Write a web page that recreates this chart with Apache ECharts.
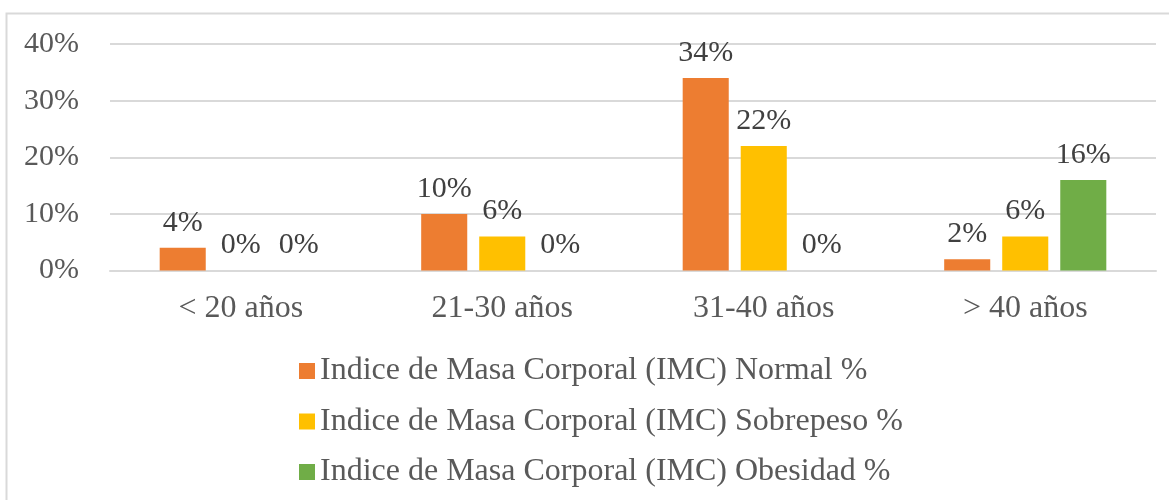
<!DOCTYPE html>
<html>
<head>
<meta charset="utf-8">
<script src="https://cdn.jsdelivr.net/npm/echarts@6/dist/echarts.min.js"></script>
<style>
  html, body { margin: 0; padding: 0; background: #fff; }
  #chart { width: 1169px; height: 500px; }
</style>
</head>
<body>
<div id="chart"></div>
<script>
// datos
const categorias = ['< 20 años', '21-30 años', '31-40 años', '> 40 años'];
const normal = [4, 10, 34, 2];
const sobrepeso = [0, 6, 22, 6];
const obesidad = [0, 0, 0, 16];
const yTicks = [0, 10, 20, 30, 40];

const fuente = 'Liberation Serif, Times New Roman, serif';

const myChart = echarts.init(document.getElementById('chart'));

function serie(nombre, datos, color) {
  return {
    name: nombre,
    type: 'bar',
    data: datos,
    barGap: '26%',
    barCategoryGap: '38%',
    itemStyle: { color: color },
    label: {
      show: true,
      position: 'top',
      distance: 10,
      formatter: '{c}%',
      color: '#404040',
      fontFamily: fuente,
      fontSize: 30
    }
  };
}

myChart.setOption({
  animation: false,
  textStyle: { fontFamily: fuente },
  graphic: [{
    type: 'rect',
    shape: { x: 6.5, y: 13.5, width: 1200, height: 600 },
    style: { fill: 'none', stroke: '#d9d9d9', lineWidth: 2 },
    silent: true
  }],
  grid: { left: 110, right: 13, top: 44, bottom: 229.5 },
  legend: {
    orient: 'vertical',
    left: 294,
    top: 350,
    itemWidth: 16,
    itemHeight: 16,
    itemGap: 18.5,
    icon: 'rect',
    textStyle: { color: '#595959', fontFamily: fuente, fontSize: 32 },
    data: [
      'Indice de Masa Corporal (IMC) Normal %',
      'Indice de Masa Corporal (IMC) Sobrepeso %',
      'Indice de Masa Corporal (IMC) Obesidad %'
    ]
  },
  xAxis: {
    type: 'category',
    data: categorias,
    axisLine: { lineStyle: { color: '#d9d9d9', width: 2 } },
    axisTick: { show: false },
    axisLabel: { color: '#595959', fontFamily: fuente, fontSize: 32, margin: 22 }
  },
  yAxis: {
    type: 'value',
    min: yTicks[0],
    max: yTicks[yTicks.length - 1],
    interval: 10,
    axisLine: { show: false },
    axisTick: { show: false },
    splitLine: { lineStyle: { color: '#d9d9d9', width: 2 } },
    axisLabel: { color: '#595959', fontFamily: fuente, fontSize: 30, margin: 31, formatter: '{value}%' }
  },
  series: [
    serie('Indice de Masa Corporal (IMC) Normal %', normal, '#ED7D31'),
    serie('Indice de Masa Corporal (IMC) Sobrepeso %', sobrepeso, '#FFC000'),
    serie('Indice de Masa Corporal (IMC) Obesidad %', obesidad, '#70AD47')
  ]
});

window.onresize = function () {
  myChart.resize();
};
</script>
</body>
</html>
